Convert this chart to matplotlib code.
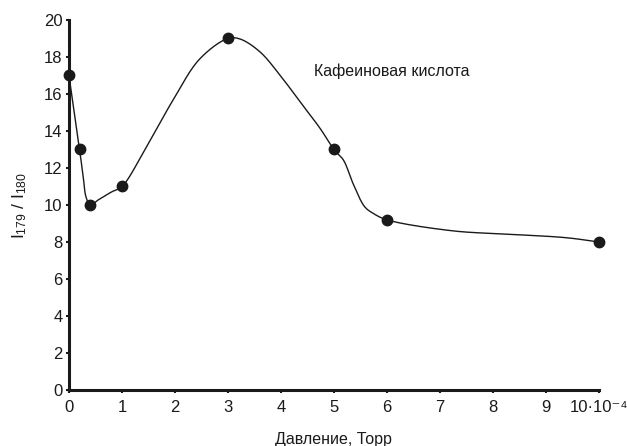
import numpy as np
import matplotlib.pyplot as plt

plt.rcParams['font.family'] = ['Liberation Sans', 'DejaVu Sans']
plt.rcParams['mathtext.fontset'] = 'custom'
plt.rcParams['mathtext.rm'] = 'Liberation Sans'
plt.rcParams['mathtext.it'] = 'Liberation Sans'

# measured points
pressure = [0, 0.2, 0.4, 1, 3, 5, 6, 10]
ratio = [17, 13, 10, 11, 19, 13, 9.2, 8]

# hand-drawn guide curve through the points
curve_x = [0, 0.2, 0.27, 0.32, 0.4, 0.55, 0.8, 1, 1.43, 1.97, 2.47, 3, 3.23, 3.6, 3.98, 4.36,
           4.74, 5, 5.18, 5.36, 5.58, 5.74, 6, 7.25, 8.3, 9.39, 10]
curve_y = [17, 13, 11.5, 10.45, 10, 10.27, 10.7, 11, 12.97, 15.7, 17.9, 19, 18.97, 18.29, 17.03, 15.58,
           14.14, 13, 12.43, 11.17, 9.91, 9.55, 9.2, 8.6, 8.42, 8.23, 8]

x_ticks = list(range(11))
x_tick_labels = [str(v) for v in range(10)] + ['10·10⁻⁴']
y_ticks = list(range(0, 21, 2))


def smooth_curve(xs, ys, n=24, sx=53.0, sy=18.5):
  # centripetal Catmull-Rom, worked out in screen-like units
  pts = np.column_stack([np.asarray(xs) * sx, np.asarray(ys) * sy])
  pts = np.vstack([2 * pts[0] - pts[1], pts, 2 * pts[-1] - pts[-2]])
  out = []
  for i in range(1, len(pts) - 2):
    p0, p1, p2, p3 = pts[i - 1], pts[i], pts[i + 1], pts[i + 2]
    t0 = 0.0
    t1 = t0 + np.linalg.norm(p1 - p0) ** 0.5
    t2 = t1 + np.linalg.norm(p2 - p1) ** 0.5
    t3 = t2 + np.linalg.norm(p3 - p2) ** 0.5
    t = np.linspace(t1, t2, n, endpoint=False)[:, None]
    a1 = (t1 - t) / (t1 - t0) * p0 + (t - t0) / (t1 - t0) * p1
    a2 = (t2 - t) / (t2 - t1) * p1 + (t - t1) / (t2 - t1) * p2
    a3 = (t3 - t) / (t3 - t2) * p2 + (t - t2) / (t3 - t2) * p3
    b1 = (t2 - t) / (t2 - t0) * a1 + (t - t0) / (t2 - t0) * a2
    b2 = (t3 - t) / (t3 - t1) * a2 + (t - t1) / (t3 - t1) * a3
    out.append((t2 - t) / (t2 - t1) * b1 + (t - t1) / (t2 - t1) * b2)
  out.append(pts[-2][None, :])
  out = np.vstack(out)
  return out[:, 0] / sx, out[:, 1] / sy


fig = plt.figure(figsize=(6.27, 4.46), dpi=100)
ax = fig.add_axes([0.110, 0.1256, 0.845, 0.8296])

cx, cy = smooth_curve(curve_x, curve_y)
ax.plot(cx, cy, color='#1a1a1a', linewidth=1.0, clip_on=False)
ax.plot(pressure, ratio, 'o', color='#1a1a1a', markersize=7.5, clip_on=False, zorder=5)

ax.set_xlim(0, 10)
ax.set_ylim(0, 20)
ax.set_xticks(x_ticks)
ax.set_xticklabels(x_tick_labels)
ax.set_yticks(y_ticks)

for side in ['top', 'right']:
  ax.spines[side].set_visible(False)
for side in ['left', 'bottom']:
  ax.spines[side].set_linewidth(2.2)
  ax.spines[side].set_color('#1a1a1a')

ax.tick_params(direction='out', length=2.5, width=1.5, labelsize=12, colors='#1a1a1a')
ax.tick_params(axis='x', pad=5)
ax.tick_params(axis='y', pad=2)

ax.text(4.62, 17.25, 'Кафеиновая кислота', fontsize=11.5, va='center', ha='left', color='#1a1a1a')
ax.set_xlabel('Давление, Торр', fontsize=11.5, color='#1a1a1a')
ax.xaxis.set_label_coords(0.5, -0.114)
ax.set_ylabel(r'I$_{179}$ / I$_{180}$', fontsize=12.5, color='#1a1a1a')
ax.yaxis.set_label_coords(-0.075, 0.5)

fig.savefig('out.png', dpi=100)
